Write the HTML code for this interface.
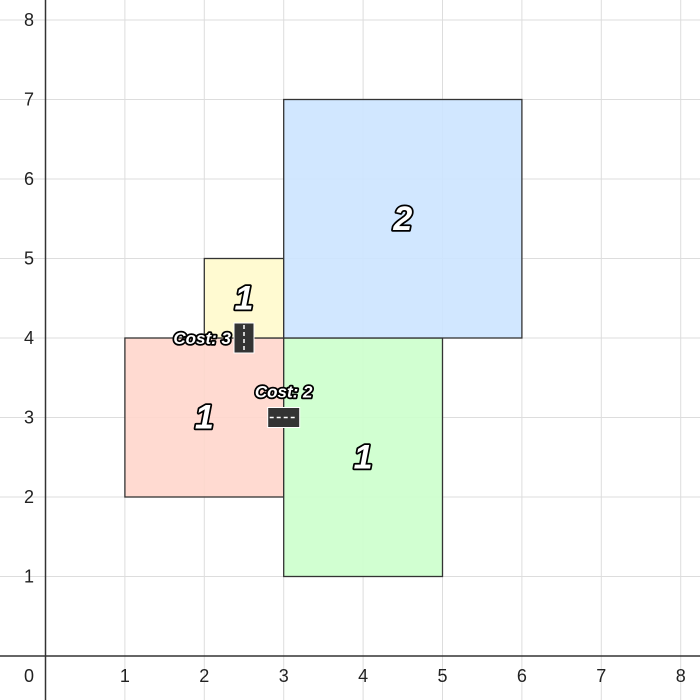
<!DOCTYPE html>
<html><head><meta charset="utf-8"><style>
html,body{margin:0;background:#fff;width:700px;height:700px;overflow:hidden;}
svg{display:block;font-family:"Liberation Sans",sans-serif;}
.lbl{font-family:"Liberation Sans",sans-serif;font-size:18px;fill:#222;}
.big{font-family:"Liberation Sans",sans-serif;font-style:italic;font-weight:bold;fill:#fff;stroke:#000;stroke-width:3.5;paint-order:stroke;stroke-linejoin:round;}
</style></head><body>
<svg id="chart" width="700" height="700" viewBox="0 0 700 700">
<g id="grid"></g>
<g id="rects"></g>
<g id="axes"></g>
<g id="ann"></g>
</svg>
<script>
const xTicks=[0,1,2,3,4,5,6,7,8];
const yTicks=[1,2,3,4,5,6,7,8];
const rectX0=[1,2,3,3];
const rectY0=[2,4,1,4];
const rectX1=[3,3,5,6];
const rectY1=[4,5,4,7];
const rectVal=["1","1","1","2"];
const rectNames=["red-region","yellow-region","green-region","blue-region"];
const rectFill=["#ffd6cc","#fff9cc","#ccffcc","#cce4ff"];
const costLabels=["Cost: 3","Cost: 2"];
const costX=[2.5,3];
const costY=[4,3];
const costOrient=["v","h"];
const X=v=>45.5+79.4*v, Y=v=>656-79.5*v;
const NS="http://www.w3.org/2000/svg";
function mk(t,a,p){const e=document.createElementNS(NS,t);for(const k in a)e.setAttribute(k,a[k]);p.appendChild(e);return e;}
const grid=document.getElementById('grid'),rects=document.getElementById('rects'),axes=document.getElementById('axes'),ann=document.getElementById('ann');
for(let i=0;i<=8;i++){
 let l=mk('line',{x1:X(i),x2:X(i),y1:0,y2:700,stroke:'#ddd','stroke-width':1},grid);
 
 
 let m=mk('line',{y1:Y(i),y2:Y(i),x1:0,x2:700,stroke:'#ddd','stroke-width':1},grid);
 
 
}
rectX0.forEach((x0,i)=>{
 const r=mk('rect',{x:X(x0),y:Y(rectY1[i]),width:X(rectX1[i])-X(x0),height:Y(rectY0[i])-Y(rectY1[i]),fill:rectFill[i],'fill-opacity':0.9,stroke:'#333','stroke-width':1.3},rects);
 
 
});
rectX0.forEach((x0,i)=>{
 const cx=(X(x0)+X(rectX1[i]))/2, cy=(Y(rectY0[i])+Y(rectY1[i]))/2;
 const t=mk('text',{x:cx,y:cy+11,'text-anchor':'middle','font-size':34,class:'big'},rects);
 t.textContent=rectVal[i];
 
 
});
let a=mk('line',{x1:X(0),x2:X(0),y1:0,y2:700,stroke:'#333','stroke-width':1.5},axes);


let b=mk('line',{x1:0,x2:700,y1:Y(0),y2:Y(0),stroke:'#333','stroke-width':1.5},axes);


xTicks.forEach(v=>{
 const t=mk('text',{x:v==0?29:X(v),y:682,'text-anchor':'middle',class:'lbl'},axes);
 t.textContent=v;
 
 
});
yTicks.forEach(v=>{
 const t=mk('text',{x:29,y:Y(v)+6,'text-anchor':'middle',class:'lbl'},axes);
 t.textContent=v;
 
 
});
costX.forEach((cx,i)=>{
 const px=X(cx),py=Y(costY[i]);
 const g=mk('g',{},ann);
 
 
 if(costOrient[i]=="v"){
  mk('rect',{x:px-10,y:py-15,width:20,height:30,fill:'#333',stroke:'#fff','stroke-width':1},g);
  mk('line',{x1:px,x2:px,y1:py-13,y2:py+13,stroke:'#fff','stroke-width':1.5,'stroke-dasharray':'4 3'},g);
 } else {
  mk('rect',{x:px-16,y:py-10,width:32,height:20,fill:'#333',stroke:'#fff','stroke-width':1},g);
  mk('line',{x1:px-14,x2:px+14,y1:py,y2:py,stroke:'#fff','stroke-width':1.5,'stroke-dasharray':'4 3'},g);
 }
 const t=mk('text',{x:costOrient[i]=="v"?px-13:px,y:costOrient[i]=="v"?py+6:py-20,'text-anchor':costOrient[i]=="v"?'end':'middle','font-size':17,class:'big'},ann);
 t.textContent=costLabels[i];
 
 
});
</script>
</body></html>
